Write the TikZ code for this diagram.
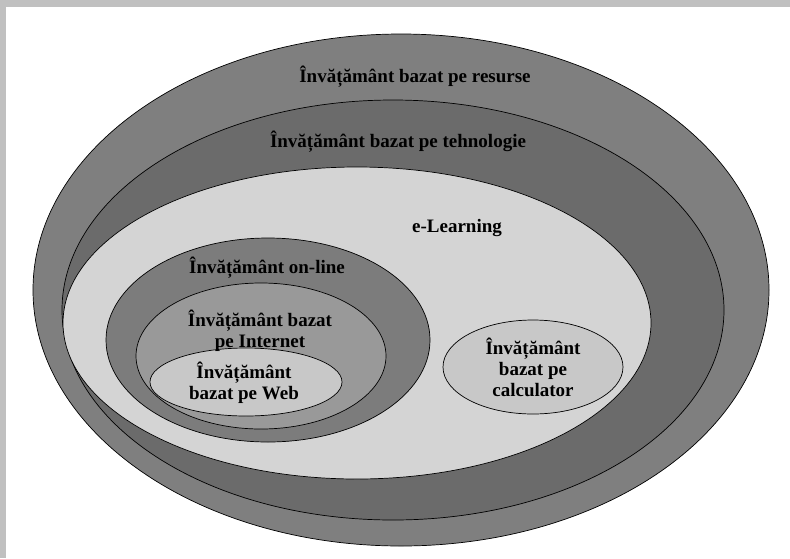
\documentclass[tikz,border=0pt]{standalone}
\usepackage{fontspec}
\setmainfont{Liberation Serif}
\usetikzlibrary{shapes.geometric}

\definecolor{framegray}{HTML}{C0C0C0}
\definecolor{resursegray}{HTML}{7F7F7F}
\definecolor{tehngray}{HTML}{6B6B6B}
\definecolor{elearngray}{HTML}{D4D4D4}
\definecolor{onlinegray}{HTML}{7C7C7C}
\definecolor{netgray}{HTML}{999999}
\definecolor{webgray}{HTML}{C8C8C8}

\begin{document}
\begin{tikzpicture}[x=1pt,y=-1pt,
  zone/.style={ellipse,draw=black,line width=0.7pt,inner sep=0pt},
  lbl/.style={font=\bfseries\fontsize{19}{21}\selectfont,align=center,inner sep=0pt}]
  \useasboundingbox (0,0) rectangle (790,558);
  \fill[framegray] (0,0) rectangle (790,558);
  \fill[white] (6,7) rectangle (790,558);
  % nested zones
  \node[zone,fill=resursegray,minimum width=736pt,minimum height=512pt] (resurse) at (401,290) {};
  \node[zone,fill=tehngray,minimum width=662pt,minimum height=420pt] (tehn) at (393,310) {};
  \node[zone,fill=elearngray,minimum width=588pt,minimum height=312pt] (elearn) at (357,323) {};
  \node[zone,fill=onlinegray,minimum width=324pt,minimum height=204pt] (online) at (268,340) {};
  \node[zone,fill=netgray,minimum width=250pt,minimum height=146pt] (net) at (261,356) {};
  \node[zone,fill=webgray,minimum width=192pt,minimum height=68pt] (web) at (246,382) {};
  \node[zone,fill=webgray,minimum width=180pt,minimum height=94pt] (calc) at (533,367) {};
  % labels
  \node[lbl] (resurse-t) at (415,77) {Învățământ bazat pe resurse};
  \node[lbl] (tehn-t) at (398,142) {Învățământ bazat pe tehnologie};
  \node[lbl] (elearn-t) at (457,228) {e-Learning};
  \node[lbl] (online-t) at (267,268) {Învățământ on-line};
  \node[lbl] (net-t) at (260,331) {Învățământ bazat\\pe Internet};
  \node[lbl] (web-t) at (244,383) {Învățământ\\bazat pe Web};
  \node[lbl] (calc-t) at (533,367) {Învățământ\\bazat pe\\calculator};
\end{tikzpicture}
\end{document}
